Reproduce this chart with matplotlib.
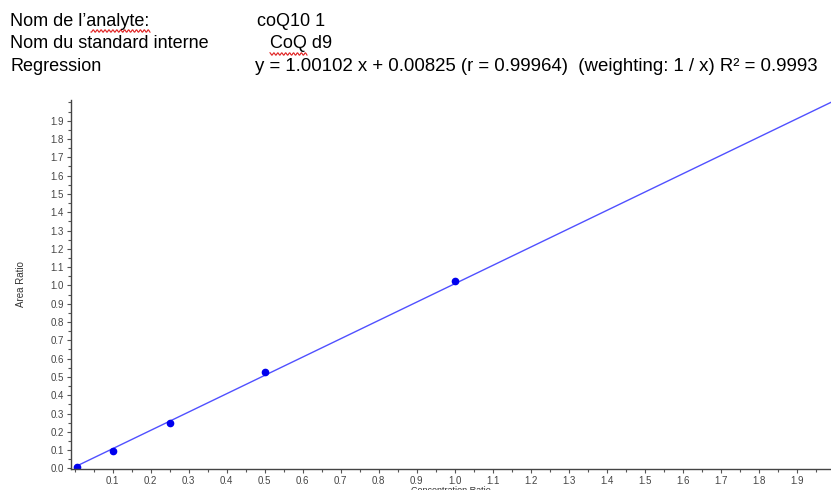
import numpy as np
from matplotlib import pyplot as plt
from matplotlib.ticker import MultipleLocator

# calibration points
conc_ratio = [0.005, 0.1, 0.25, 0.5, 1.0]
area_ratio = [0.006, 0.094, 0.248, 0.528, 1.022]

# regression
slope = 1.00102
intercept = 0.00825
x_ticks = [0.1, 0.2, 0.3, 0.4, 0.5, 0.6, 0.7, 0.8, 0.9, 1.0,
           1.1, 1.2, 1.3, 1.4, 1.5, 1.6, 1.7, 1.8, 1.9]
y_ticks = [0.0, 0.1, 0.2, 0.3, 0.4, 0.5, 0.6, 0.7, 0.8, 0.9, 1.0,
           1.1, 1.2, 1.3, 1.4, 1.5, 1.6, 1.7, 1.8, 1.9]

header_labels = ["Nom de l\u2019analyte:", "Nom du standard interne", "Regression"]
header_values = ["coQ10 1", "CoQ d9",
                 "y = 1.00102 x + 0.00825 (r = 0.99964)  (weighting: 1 / x) R\u00b2 = 0.9993"]

plt.rcParams['font.family'] = ['Liberation Sans', 'DejaVu Sans']

fig = plt.figure(figsize=(8.31, 4.9), dpi=100)
ax = fig.add_axes([71 / 831, 21 / 490, 1 - 71 / 831, 369 / 490])

# header block
value_x = [257, 270, 255]
value_size = [13, 13, 13.45]
for i, (lab, val) in enumerate(zip(header_labels, header_values)):
    y = 1 - (21 + 22.5 * i) / 490
    fig.text(10 / 831, y, lab, fontsize=13, va='center', ha='left')
    fig.text(value_x[i] / 831, y, val, fontsize=value_size[i], va='center', ha='left')

# spell-check squiggles
def squiggle(x0, x1, ypx):
    xs = np.linspace(x0, x1, int((x1 - x0) * 2))
    ys = ypx + 1.2 * np.sin(xs * 1.6)
    fig.add_artist(plt.Line2D(xs / 831, 1 - ys / 490, color='#e02020', lw=0.8))

squiggle(91, 150, 31)
squiggle(270, 307, 54)

xs = np.array([0.0, 2.0])
ax.plot(xs, slope * xs + intercept, color='#5050ff', lw=1.0)
ax.plot(conc_ratio, area_ratio, 'o', color='#0000ee', ms=4.5)

ax.set_xlim(-0.01, 1.99)
ax.set_ylim(-0.003, 2.013)
ax.set_xticks(x_ticks)
ax.set_yticks(y_ticks)
ax.set_xticklabels([f"{v:.1f}" for v in x_ticks])
ax.set_yticklabels([f"{v:.1f}" for v in y_ticks])
ax.xaxis.set_minor_locator(MultipleLocator(0.05))
ax.yaxis.set_minor_locator(MultipleLocator(0.05))
ax.tick_params(which='both', direction='out', labelsize=7, labelcolor='#444444',
               color='#555555', width=0.8)
ax.tick_params(which='major', length=3, pad=2)
ax.tick_params(which='minor', length=2)

for side in ['top', 'right']:
    ax.spines[side].set_visible(False)
for side in ['left', 'bottom']:
    ax.spines[side].set_color('#444444')
    ax.spines[side].set_linewidth(1.0)

ax.set_xlabel('Concentration Ratio', fontsize=6.5, color='#333333', labelpad=0)
ax.set_ylabel('Area Ratio', fontsize=7, color='#333333', labelpad=18)

fig.savefig('out.png', dpi=100)
